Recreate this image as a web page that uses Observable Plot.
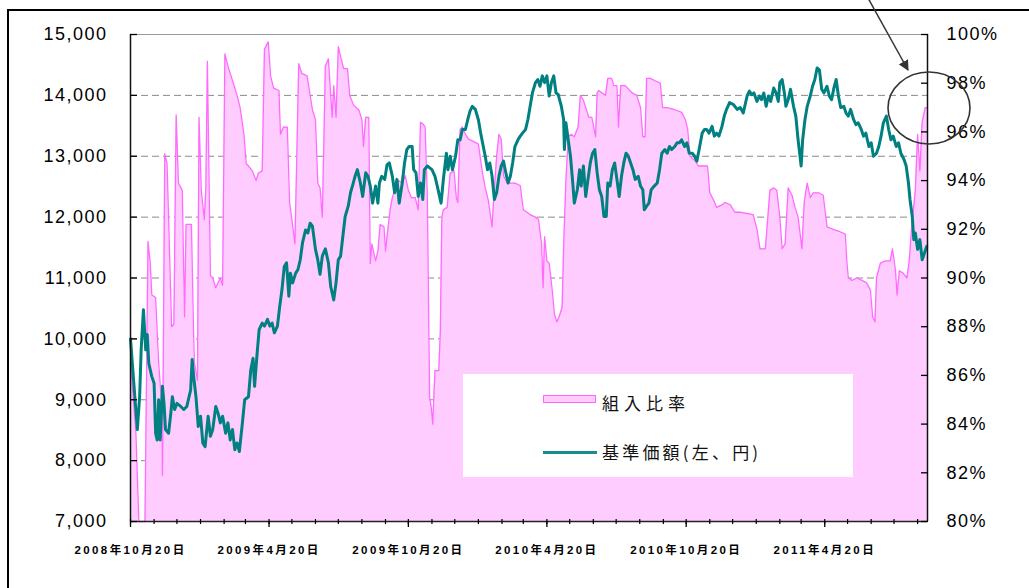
<!DOCTYPE html>
<html><head><meta charset="utf-8">
<script src="https://cdn.jsdelivr.net/npm/d3@7"></script>
<script src="https://cdn.jsdelivr.net/npm/@observablehq/plot@0.6"></script>
<style>
body{margin:0;background:#fff;}
#wrap{position:relative;width:1029px;height:588px;overflow:hidden;background:#fff;}
#wrap svg.main{position:absolute;left:0;top:0;}
svg g[aria-label="y-axis tick label"] text{letter-spacing:1.5px;}
svg g[aria-label="x-axis tick label"] text{letter-spacing:2.4px;font-weight:bold;}
#legend{position:absolute;left:463px;top:374px;width:390px;height:103px;background:#fff;font-family:"Noto Sans CJK JP",sans-serif;color:#111;}
#legend .sw1{position:absolute;left:80px;top:21px;width:51px;height:6px;background:#FFCCFF;border:1.5px solid #FF66FF;}
#legend .sw2{position:absolute;left:80px;top:77px;width:54px;height:2.5px;background:#1a8c8c;}
#legend .t{position:absolute;left:139px;font-size:17px;letter-spacing:5px;line-height:20px;white-space:nowrap;}
#ann{position:absolute;left:0;top:0;pointer-events:none;}
</style></head><body>
<div id="wrap">
  <div id="legend">
    <div class="sw1"></div><div class="t" style="top:19px">組入比率</div>
    <div class="sw2"></div><div class="t" style="top:68px;letter-spacing:3.2px">基準価額(左、円)</div>
  </div>
</div>
<script>
// 組入比率 (%), right axis
const ratioSeries = [
["2008-10-20",86.5],["2008-10-27",83.7],["2008-10-31",80.0],["2008-11-08",80.0],["2008-11-12",91.5],["2008-11-15",90.6],["2008-11-17",89.3],["2008-11-22",89.2],["2008-11-26",86.5],["2008-11-30",84.8],
["2008-12-01",81.9],["2008-12-04",95.1],["2008-12-07",94.7],["2008-12-09",92.5],["2008-12-13",88.0],["2008-12-16",88.1],["2008-12-19",96.7],["2008-12-22",93.9],["2008-12-27",93.6],["2008-12-30",88.4],
["2009-01-01",92.2],["2009-01-08",92.2],["2009-01-11",87.6],["2009-01-12",86.5],["2009-01-16",85.8],["2009-01-18",96.6],["2009-01-21",93.6],["2009-01-25",92.4],["2009-01-27",93.7],["2009-01-29",98.9],
["2009-02-02",90.1],["2009-02-05",90.0],["2009-02-09",89.6],["2009-02-15",90.0],["2009-02-18",89.7],["2009-02-21",99.2],["2009-02-25",98.7],["2009-03-03",98.1],["2009-03-09",97.5],["2009-03-13",97.0],
["2009-03-18",95.9],["2009-03-21",94.7],["2009-03-24",94.6],["2009-03-29",94.4],["2009-04-03",94.0],["2009-04-06",94.3],["2009-04-11",94.4],["2009-04-14",99.4],["2009-04-19",99.7],["2009-04-22",98.3],
["2009-04-26",97.8],["2009-05-03",97.7],["2009-05-05",95.9],["2009-05-09",96.2],["2009-05-14",96.2],["2009-05-17",93.1],["2009-05-20",92.4],["2009-05-24",91.4],["2009-05-27",95.8],["2009-05-29",98.8],
["2009-06-02",98.4],["2009-06-09",98.3],["2009-06-16",96.9],["2009-06-20",96.5],["2009-06-23",93.9],["2009-06-26",93.7],["2009-06-29",92.5],["2009-07-03",98.7],["2009-07-07",99.0],["2009-07-10",97.5],
["2009-07-12",96.6],["2009-07-14",97.9],["2009-07-17",96.6],["2009-07-20",99.5],["2009-07-23",99.1],["2009-07-27",98.6],["2009-08-01",98.6],["2009-08-04",97.5],["2009-08-09",97.1],["2009-08-16",96.9],
["2009-08-20",96.5],["2009-08-22",95.4],["2009-08-25",96.6],["2009-08-29",96.6],["2009-08-31",90.6],["2009-09-02",91.4],["2009-09-07",90.7],["2009-09-10",91.1],["2009-09-13",92.2],["2009-09-18",92.1],
["2009-09-20",91.1],["2009-09-22",91.7],["2009-09-26",92.8],["2009-09-29",93.3],["2009-10-03",93.7],["2009-10-07",94.0],["2009-10-12",93.9],["2009-10-16",94.2],["2009-10-20",93.6],["2009-10-24",93.3],
["2009-10-29",93.3],["2009-11-02",92.8],["2009-11-05",96.4],["2009-11-09",96.3],["2009-11-11",96.2],["2009-11-14",93.3],["2009-11-16",87.6],["2009-11-17",85.1],["2009-11-19",84.7],["2009-11-21",84.0],
["2009-11-24",86.2],["2009-11-29",86.2],["2009-12-01",87.8],["2009-12-03",92.5],["2009-12-05",92.8],["2009-12-10",92.9],["2009-12-14",94.3],["2009-12-19",94.4],["2009-12-22",93.3],["2009-12-24",93.1],
["2009-12-27",96.1],["2009-12-30",96.2],["2010-01-03",95.9],["2010-01-07",95.7],["2010-01-14",95.6],["2010-01-20",95.5],["2010-01-25",94.4],["2010-01-29",93.7],["2010-02-02",93.2],["2010-02-07",92.1],
["2010-02-09",93.2],["2010-02-13",95.0],["2010-02-16",95.9],["2010-02-19",95.7],["2010-02-22",94.2],["2010-02-27",93.9],["2010-03-03",93.9],["2010-03-09",93.9],["2010-03-16",93.8],["2010-03-20",92.8],
["2010-03-25",92.7],["2010-03-29",92.6],["2010-04-05",92.5],["2010-04-09",92.4],["2010-04-13",91.4],["2010-04-15",89.6],["2010-04-17",91.7],["2010-04-20",90.7],["2010-04-23",90.6],["2010-04-27",89.5],
["2010-04-30",88.5],["2010-05-03",88.2],["2010-05-06",88.4],["2010-05-10",88.8],["2010-05-12",91.3],["2010-05-15",94.0],["2010-05-18",95.8],["2010-05-22",95.9],["2010-05-26",95.8],["2010-05-31",96.2],
["2010-06-03",97.5],["2010-06-07",97.3],["2010-06-14",96.6],["2010-06-18",96.6],["2010-06-23",95.8],["2010-06-25",97.6],["2010-06-27",97.7],["2010-07-06",97.5],["2010-07-09",98.2],["2010-07-14",98.2],
["2010-07-17",97.9],["2010-07-21",97.9],["2010-07-23",96.2],["2010-07-26",97.9],["2010-08-01",97.9],["2010-08-10",97.6],["2010-08-16",97.5],["2010-08-21",97.0],["2010-08-24",95.8],["2010-08-27",95.8],
["2010-08-29",98.2],["2010-09-03",98.2],["2010-09-09",98.1],["2010-09-16",98.0],["2010-09-19",97.0],["2010-09-25",97.0],["2010-10-06",96.9],["2010-10-14",96.8],["2010-10-19",96.5],["2010-10-22",96.1],
["2010-10-25",95.0],["2010-11-01",94.8],["2010-11-05",94.6],["2010-11-12",94.6],["2010-11-17",94.6],["2010-11-20",93.5],["2010-11-25",93.2],["2010-11-29",92.9],["2010-12-06",93.0],["2010-12-10",93.1],
["2010-12-17",93.0],["2010-12-23",92.7],["2010-12-30",92.7],["2011-01-16",92.6],["2011-01-21",92.0],["2011-01-25",91.2],["2011-02-01",91.2],["2011-02-07",93.6],["2011-02-12",93.7],["2011-02-16",93.6],
["2011-02-20",92.5],["2011-02-23",91.2],["2011-02-27",91.4],["2011-03-03",93.7],["2011-03-08",93.4],["2011-03-12",92.9],["2011-03-16",92.5],["2011-03-21",91.2],["2011-03-24",93.1],["2011-03-28",93.9],
["2011-04-01",93.3],["2011-04-05",93.5],["2011-04-12",93.5],["2011-04-18",93.4],["2011-04-23",92.1],["2011-05-01",92.0],["2011-05-10",91.9],["2011-05-17",91.8],["2011-05-19",90.7],["2011-05-21",90.0],
["2011-05-26",89.9],["2011-06-01",90.0],["2011-06-08",89.9],["2011-06-14",89.8],["2011-06-19",89.5],["2011-06-22",88.4],["2011-06-25",88.2],["2011-06-27",90.0],["2011-07-02",90.6],["2011-07-08",90.7],
["2011-07-15",90.7],["2011-07-18",91.2],["2011-07-22",90.3],["2011-07-24",89.3],["2011-07-27",90.3],["2011-08-01",90.2],["2011-08-06",90.0],["2011-08-09",90.7],["2011-08-12",92.0],["2011-08-17",93.6],
["2011-08-20",95.9],["2011-08-23",94.4],["2011-08-26",96.4],["2011-08-30",97.0],["2011-09-02",97.0]
];
// 基準価額 (円), left axis
const navSeries = [
["2008-10-20",10000],["2008-10-24",9330],["2008-10-29",8510],["2008-11-01",9050],["2008-11-03",9820],["2008-11-06",10480],["2008-11-09",9820],["2008-11-11",10070],["2008-11-13",9600],["2008-11-17",9380],
["2008-11-20",9270],["2008-11-22",8450],["2008-11-24",8340],["2008-11-26",9000],["2008-11-28",8340],["2008-12-01",9220],["2008-12-03",8940],["2008-12-05",8510],["2008-12-09",8450],["2008-12-12",8780],
["2008-12-14",9050],["2008-12-17",8840],["2008-12-20",8940],["2008-12-25",8890],["2008-12-29",8840],["2009-01-02",8890],["2009-01-07",9160],["2009-01-09",9660],["2009-01-11",9380],["2009-01-14",9050],
["2009-01-17",8560],["2009-01-20",8730],["2009-01-23",8290],["2009-01-26",8230],["2009-01-30",8730],["2009-02-02",8400],["2009-02-05",8510],["2009-02-09",8890],["2009-02-12",8780],["2009-02-15",8620],
["2009-02-18",8730],["2009-02-22",8450],["2009-02-25",8620],["2009-02-28",8340],["2009-03-03",8510],["2009-03-06",8180],["2009-03-09",8290],["2009-03-12",8150],["2009-03-16",8620],["2009-03-19",9000],
["2009-03-24",9050],["2009-03-27",9490],["2009-03-30",9680],["2009-04-01",9220],["2009-04-04",9710],["2009-04-07",10150],["2009-04-11",10260],["2009-04-14",10210],["2009-04-18",10320],["2009-04-21",10210],
["2009-04-24",10260],["2009-04-27",10100],["2009-05-01",10210],["2009-05-04",10530],["2009-05-07",10810],["2009-05-10",11190],["2009-05-13",11250],["2009-05-16",10700],["2009-05-18",11080],["2009-05-21",10920],
["2009-05-25",11080],["2009-05-28",11140],["2009-05-31",11300],["2009-06-03",11580],["2009-06-07",11790],["2009-06-10",11740],["2009-06-13",11900],["2009-06-16",11850],["2009-06-20",11470],["2009-06-23",11300],
["2009-06-26",11060],["2009-06-29",11360],["2009-07-03",11480],["2009-07-07",11250],["2009-07-10",10860],["2009-07-14",10640],["2009-07-17",10920],["2009-07-20",11300],["2009-07-23",11360],["2009-07-26",11690],
["2009-07-29",12010],["2009-08-02",12180],["2009-08-05",12400],["2009-08-08",12530],["2009-08-11",12670],["2009-08-14",12780],["2009-08-18",12560],["2009-08-21",12340],["2009-08-25",12730],["2009-08-28",12670],
["2009-08-31",12510],["2009-09-03",12230],["2009-09-07",12510],["2009-09-10",12230],["2009-09-12",12560],["2009-09-15",12670],["2009-09-19",12620],["2009-09-22",12860],["2009-09-25",12890],["2009-09-29",12670],
["2009-10-02",12400],["2009-10-05",12620],["2009-10-08",12230],["2009-10-12",12560],["2009-10-15",12890],["2009-10-18",13110],["2009-10-21",13160],["2009-10-25",13160],["2009-10-27",12780],["2009-10-30",12730],
["2009-11-02",12340],["2009-11-05",12560],["2009-11-08",12290],["2009-11-10",12780],["2009-11-14",12840],["2009-11-17",12810],["2009-11-20",12780],["2009-11-24",12670],["2009-11-27",12510],["2009-11-30",12340],
["2009-12-02",12230],["2009-12-05",12620],["2009-12-09",13050],["2009-12-11",12780],["2009-12-14",13000],["2009-12-17",12780],["2009-12-21",13000],["2009-12-24",13270],["2009-12-27",13270],["2009-12-30",13440],
["2010-01-03",13440],["2010-01-06",13600],["2010-01-09",13740],["2010-01-12",13820],["2010-01-16",13770],["2010-01-20",13600],["2010-01-23",13380],["2010-01-26",13190],["2010-01-29",13000],["2010-02-01",12780],
["2010-02-04",12890],["2010-02-07",12670],["2010-02-10",12290],["2010-02-13",12400],["2010-02-16",12670],["2010-02-19",12840],["2010-02-22",12920],["2010-02-25",12730],["2010-02-28",12560],["2010-03-03",12670],
["2010-03-06",12890],["2010-03-09",13160],["2010-03-13",13270],["2010-03-16",13330],["2010-03-19",13380],["2010-03-23",13440],["2010-03-26",13600],["2010-03-29",13820],["2010-04-01",14040],["2010-04-05",14210],
["2010-04-08",14260],["2010-04-11",14150],["2010-04-14",14320],["2010-04-17",14210],["2010-04-20",14320],["2010-04-23",13990],["2010-04-26",14210],["2010-04-29",14320],["2010-05-02",14040],["2010-05-05",14010],
["2010-05-09",13820],["2010-05-12",13600],["2010-05-13",13110],["2010-05-15",13550],["2010-05-18",13270],["2010-05-21",13000],["2010-05-24",12560],["2010-05-26",12230],["2010-05-30",12450],["2010-06-02",12780],
["2010-06-04",12510],["2010-06-07",12840],["2010-06-10",12340],["2010-06-13",12620],["2010-06-16",12890],["2010-06-19",13050],["2010-06-22",13110],["2010-06-25",12730],["2010-06-28",12450],["2010-07-01",12340],
["2010-07-04",12010],["2010-07-07",12010],["2010-07-09",12560],["2010-07-12",12510],["2010-07-15",12780],["2010-07-18",12890],["2010-07-21",12620],["2010-07-24",12340],["2010-07-27",12670],["2010-07-30",12890],
["2010-08-02",13050],["2010-08-05",13000],["2010-08-08",12890],["2010-08-11",12780],["2010-08-14",12620],["2010-08-18",12670],["2010-08-21",12510],["2010-08-24",12450],["2010-08-26",12120],["2010-08-29",12180],
["2010-09-01",12230],["2010-09-04",12450],["2010-09-08",12510],["2010-09-12",12560],["2010-09-15",12780],["2010-09-18",13050],["2010-09-22",13110],["2010-09-25",13050],["2010-09-28",13160],["2010-10-01",13110],
["2010-10-05",13160],["2010-10-08",13220],["2010-10-11",13220],["2010-10-14",13270],["2010-10-18",13160],["2010-10-21",13220],["2010-10-24",13050],["2010-10-28",13050],["2010-10-31",13000],["2010-11-03",12920],
["2010-11-06",13110],["2010-11-10",13380],["2010-11-13",13440],["2010-11-16",13440],["2010-11-19",13380],["2010-11-23",13490],["2010-11-26",13330],["2010-11-29",13380],["2010-12-02",13330],["2010-12-06",13490],
["2010-12-09",13660],["2010-12-12",13770],["2010-12-16",13880],["2010-12-21",13850],["2010-12-26",13770],["2010-12-30",13800],["2011-01-03",13710],["2011-01-08",13990],["2011-01-11",14070],["2011-01-14",14010],
["2011-01-17",14040],["2011-01-21",13900],["2011-01-24",13990],["2011-01-27",13930],["2011-01-30",14040],["2011-02-02",13820],["2011-02-05",13990],["2011-02-08",13900],["2011-02-12",14120],["2011-02-15",14040],
["2011-02-18",13900],["2011-02-20",14210],["2011-02-23",14260],["2011-02-26",14040],["2011-02-28",13820],["2011-03-03",13930],["2011-03-06",14100],["2011-03-10",13820],["2011-03-13",13660],["2011-03-16",13270],
["2011-03-20",12840],["2011-03-22",13270],["2011-03-25",13600],["2011-03-28",13820],["2011-04-01",13990],["2011-04-04",14150],["2011-04-07",14260],["2011-04-10",14450],["2011-04-13",14420],["2011-04-16",14100],
["2011-04-19",14040],["2011-04-23",14150],["2011-04-26",13990],["2011-04-29",13930],["2011-05-02",14120],["2011-05-05",14260],["2011-05-08",13990],["2011-05-11",13800],["2011-05-15",13820],["2011-05-18",13710],
["2011-05-21",13660],["2011-05-24",13770],["2011-05-28",13600],["2011-05-31",13520],["2011-06-03",13550],["2011-06-07",13440],["2011-06-10",13330],["2011-06-13",13380],["2011-06-17",13160],["2011-06-20",13220],
["2011-06-23",13000],["2011-06-27",13050],["2011-06-30",13160],["2011-07-03",13330],["2011-07-06",13550],["2011-07-10",13660],["2011-07-13",13440],["2011-07-16",13270],["2011-07-19",13330],["2011-07-23",13160],
["2011-07-26",13220],["2011-07-29",13050],["2011-08-02",12950],["2011-08-05",12840],["2011-08-08",12560],["2011-08-10",12290],["2011-08-13",12010],["2011-08-15",11630],["2011-08-17",11740],["2011-08-20",11470],
["2011-08-23",11630],["2011-08-26",11300],["2011-08-29",11410],["2011-09-01",11520]
];
const navTicks = [7000, 8000, 9000, 10000, 11000, 12000, 13000, 14000, 15000];
const gridValues = [8000, 9000, 10000, 11000, 12000, 13000, 14000];
const pctTicks = [80, 82, 84, 86, 88, 90, 92, 94, 96, 98, 100];
const xLabelDates = ["2008-10-20", "2009-04-20", "2009-10-20", "2010-04-20", "2010-10-20", "2011-04-20"];
const xLabelTexts = ["2008年10月20日", "2009年4月20日", "2009年10月20日", "2010年4月20日", "2010年10月20日", "2011年4月20日"];
const xDomain = ["2008-10-20", "2011-09-02"];
const navRange = [7000, 15000];
const pctRange = [80, 100];

// map percent onto the left (yen) scale for the dual axis
const toLeft = p => navRange[0] + (p - pctRange[0]) * (navRange[1] - navRange[0]) / (pctRange[1] - pctRange[0]);
const fromLeft = v => pctRange[0] + (v - navRange[0]) * (pctRange[1] - pctRange[0]) / (navRange[1] - navRange[0]);

const parse = s => new Date(s + "T00:00:00Z");
const ratio = ratioSeries.map(([d, v]) => ({date: parse(d), v}));
const nav = navSeries.map(([d, v]) => ({date: parse(d), v}));
const labelDates = xLabelDates.map(parse);
const labelMap = new Map(labelDates.map((d, i) => [+d, xLabelTexts[i]]));
const minorTicks = d3.utcMonth.range(parse("2008-10-01"), parse("2011-09-01")).map(m => d3.utcDay.offset(m, 19));
const start = parse(xDomain[0]), end = parse(xDomain[1]);

const chart = Plot.plot({
  width: 1029, height: 588,
  marginLeft: 130, marginRight: 102, marginTop: 34, marginBottom: 67,
  x: {type: "utc", domain: [start, end], label: null},
  y: {domain: navRange, label: null},
  style: {fontFamily: '"Liberation Sans", Arial, "Noto Sans CJK JP", sans-serif', background: "transparent", overflow: "visible", color: "#000"},
  marks: [
    Plot.ruleY(gridValues, {stroke: "#8a8a8a", strokeWidth: 1, strokeDasharray: "7,4"}),
    Plot.areaY(ratio, {x: "date", y1: navRange[0], y2: d => toLeft(d.v), fill: "#FFCCFF"}),
    Plot.lineY(ratio, {x: "date", y: d => toLeft(d.v), stroke: "#FF6BFF", strokeWidth: 1.3}),
    Plot.lineY(nav, {x: "date", y: "v", stroke: "#008080", strokeWidth: 3, strokeLinejoin: "round"}),
    Plot.ruleY([navRange[1]], {stroke: "#999", strokeWidth: 1.2}),
    Plot.ruleY([navRange[0]], {stroke: "#222", strokeWidth: 1.5}),
    Plot.ruleX([start], {stroke: "#111", strokeWidth: 1.5}),
    Plot.ruleX([end], {stroke: "#111", strokeWidth: 1.5}),
    // left axis
    Plot.axisY(navTicks, {anchor: "left", label: null, tickSize: 0, tickPadding: 23, tickFormat: d3.format(","), fontSize: 18, fill: "#000"}),
    Plot.axisY(navTicks, {anchor: "left", label: null, tickSize: 7, dx: 7, tickFormat: () => "", stroke: "#000", strokeWidth: 1.3}),
    // right axis (percent)
    Plot.axisY(pctTicks.map(toLeft), {anchor: "right", label: null, tickSize: 0, tickPadding: 19, tickFormat: v => Math.round(fromLeft(v)) + "%", fontSize: 18, fill: "#000"}),
    Plot.axisY(pctTicks.map(toLeft), {anchor: "right", label: null, tickSize: 7, dx: -7, tickFormat: () => "", stroke: "#000", strokeWidth: 1.3}),
    // x axis
    Plot.axisX(minorTicks, {label: null, tickSize: 5, dy: -2, tickFormat: () => "", stroke: "#000", strokeWidth: 1.2}),
    Plot.axisX(labelDates, {label: null, tickSize: 6, tickPadding: 18, tickFormat: d => labelMap.get(+d), fontSize: 11.5, fill: "#000", stroke: "#000", strokeWidth: 1.3})
  ]
});
chart.classList.add("main");
const wrap = document.getElementById("wrap");
wrap.insertBefore(chart, wrap.firstChild);

// annotation overlay: outer frame, arrow and circle
const ns = "http://www.w3.org/2000/svg";
const ann = document.createElementNS(ns, "svg");
ann.setAttribute("id", "ann");
ann.setAttribute("width", 1029);
ann.setAttribute("height", 588);
ann.innerHTML = `
  <defs><marker id="ah" viewBox="0 0 10 10" refX="9" refY="5" markerWidth="7" markerHeight="7" orient="auto-start-reverse">
    <path d="M0,0 L10,5 L0,10 z" fill="#333"/></marker></defs>
  <path d="M8,588 V10 H1029" fill="none" stroke="#000" stroke-width="2"/>
  <line x1="868" y1="-2" x2="908" y2="70" stroke="#333" stroke-width="1.5" marker-end="url(#ah)"/>
  <ellipse cx="929" cy="108" rx="41" ry="36" fill="none" stroke="#333" stroke-width="1.6"/>`;
wrap.appendChild(ann);
</script>
</body></html>
